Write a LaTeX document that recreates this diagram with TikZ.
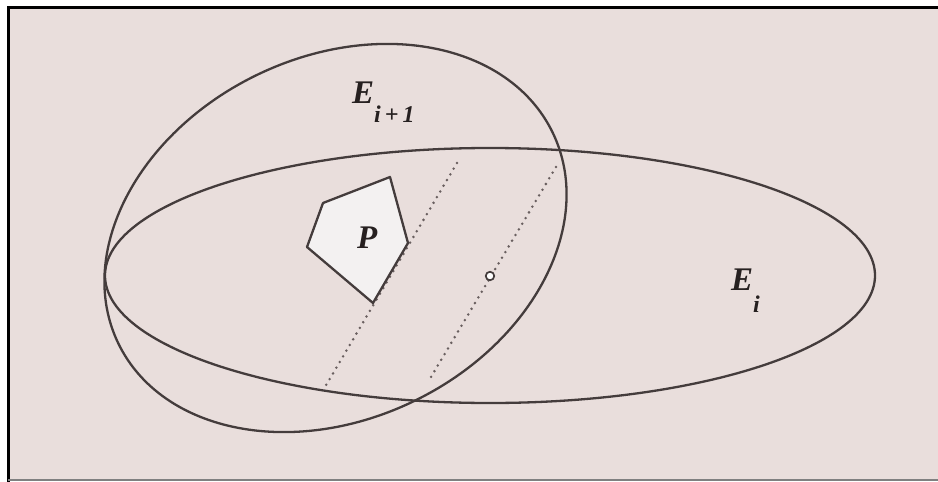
\documentclass[tikz,border=0pt]{standalone}
\usepackage{fontspec}
\setmainfont{Liberation Serif}
\definecolor{bg}{RGB}{233,222,220}
\definecolor{ink}{RGB}{68,60,60}
\definecolor{dotc}{RGB}{105,95,95}
\definecolor{pfill}{RGB}{243,241,241}
\definecolor{txt}{RGB}{38,32,32}
\newcommand\bigfont{\fontsize{33}{33}\selectfont\bfseries\itshape}
\newcommand\subfont{\fontsize{24}{24}\selectfont\bfseries\itshape}
\begin{document}
\begin{tikzpicture}[x=1pt,y=-1pt,
  ell/.style={draw=ink,line width=2.3pt},
  cutline/.style={draw=dotc,line width=2.8pt,dash pattern=on 0pt off 6.6pt,line cap=round},
  lbl/.style={inner sep=0pt,text=txt,anchor=base west}]
\useasboundingbox (0,0) rectangle (938,482);
\fill[white] (0,0) rectangle (938,482);
\fill[bg] (8,7) rectangle (938,479);
\draw[black,line width=3pt] (8.5,482) -- (8.5,7.5) -- (938,7.5);
\draw[gray,line width=2pt] (8,479.5) -- (938,479.5);
% cutting lines
\coordinate (c1a) at (457,163);
\coordinate (c1b) at (325,387);
\coordinate (c2a) at (556,167);
\coordinate (c2b) at (428,382);
\draw[cutline] (c1a) -- (c1b);
\draw[cutline] (c2a) -- (c2b);
% ellipses
\draw[ell] (490,275.5) ellipse [x radius=385, y radius=127.5];
\draw[ell,shift={(335.5,238)},rotate=26] (0,0) ellipse [x radius=241.4, y radius=181];
% polytope P
\coordinate (p1) at (323,203);
\coordinate (p2) at (390,177);
\coordinate (p3) at (408,243);
\coordinate (p4) at (373,303);
\coordinate (p5) at (307,247);
\filldraw[fill=pfill,draw=ink,line width=2.3pt,line join=round] (p1) -- (p2) -- (p3) -- (p4) -- (p5) -- cycle;
% centre
\node[draw=ink,line width=1.7pt,fill=white,circle,minimum size=8.5pt,inner sep=0pt] (ctr) at (490,276) {};
% labels
\node[lbl] (Ei1) at (352,103) {\bigfont E\raisebox{-19pt}{\subfont i\,+\,1}};
\node[lbl] (Ei) at (731,290) {\bigfont E\raisebox{-22pt}{\subfont i}};
\node[lbl] (P) at (357,248) {\bigfont P};
\end{tikzpicture}
\end{document}
